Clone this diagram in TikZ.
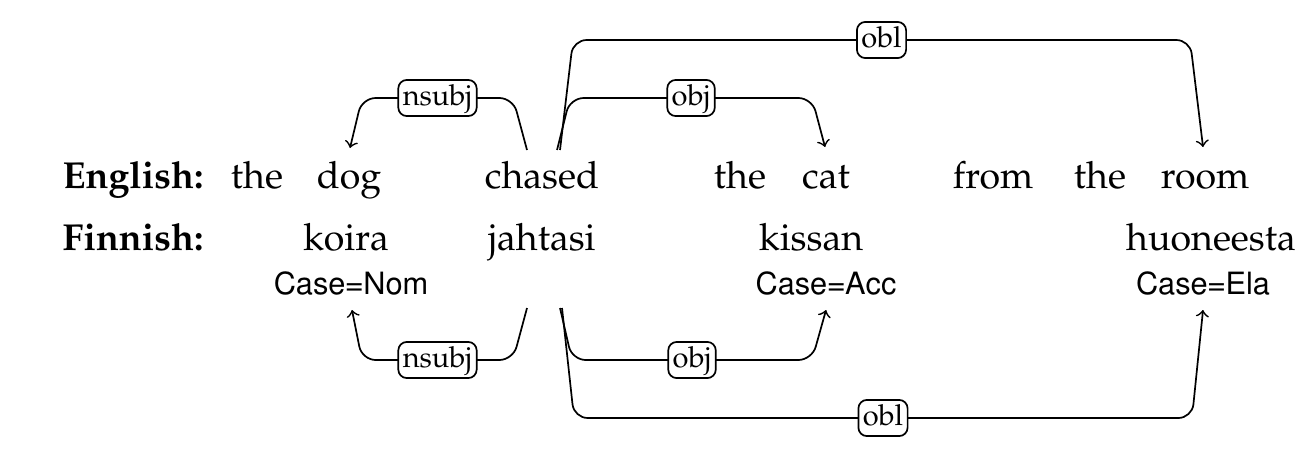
\documentclass[tikz,border=0pt]{standalone}
\usepackage[T1]{fontenc}
\usepackage{mathpazo}
\usepackage{helvet}
\usepackage{tikz}

\tikzset{
  word/.style={anchor=base, inner sep=0pt, font=\fontsize{11}{13}\selectfont},
  lang/.style={anchor=base west, inner sep=0pt, font=\fontsize{11}{13}\selectfont\bfseries},
  feat/.style={anchor=base, inner sep=0pt, font=\fontsize{9}{11}\sffamily},
  deplink/.style={->, rounded corners=4pt, line width=0.5pt},
  deplabel/.style={draw, fill=white, rounded corners=2.5pt, line width=0.5pt,
    inner xsep=1.3pt, inner ysep=1.2pt, text height=6.2pt, text depth=2pt,
    font=\fontsize{8.5}{10}\selectfont}
}

\begin{document}
\begin{tikzpicture}[x=0.0103cm, y=-0.0103cm]
\useasboundingbox (0,0) rectangle (1310,462);

% English row
\node[lang] (en) at (62,188) {English:};
\node[word] (the1) at (257,188) {the};
\node[word] (dog) at (349,188) {dog};
\node[word] (chased) at (542,188) {chased};
\node[word] (the2) at (740,188) {the};
\node[word] (cat) at (826,188) {cat};
\node[word] (from) at (993,188) {from};
\node[word] (the3) at (1100,188) {the};
\node[word] (room) at (1205,188) {room};

% Finnish row
\node[lang] (fi) at (62,250) {Finnish:};
\node[word] (koira) at (346,250) {koira};
\node[word] (jahtasi) at (542,250) {jahtasi};
\node[word] (kissan) at (811,250) {kissan};
\node[word] (huoneesta) at (1211,250) {huoneesta};

\node[feat] (nom) at (351,294) {Case=Nom};
\node[feat] (acc) at (826,294) {Case=Acc};
\node[feat] (ela) at (1203,294) {Case=Ela};

% arcs above
\draw[deplink] ([shift={(-15,-38)}]chased.base) -- ++(-14,-52) -- node[deplabel]{nsubj} ++(-151,0) -- ([shift={(1,-40)}]dog.base);
\draw[deplink] ([shift={(15,-38)}]chased.base) -- ++(13,-52) -- node[deplabel]{obj} ++(242,0) -- ([shift={(-1,-41)}]cat.base);
\draw[deplink] ([shift={(18,-38)}]chased.base) -- ++(13,-110) -- node[deplabel]{obl} ++(617,0) -- ([shift={(-2,-41)}]room.base);

% arcs below
\draw[deplink] ([shift={(-15,58)}]jahtasi.base) -- ++(-14,52) -- node[deplabel]{nsubj} ++(-151,0) -- ([shift={(1,16)}]nom.base);
\draw[deplink] ([shift={(18,58)}]jahtasi.base) -- ++(12,52) -- node[deplabel]{obj} ++(240,0) -- ([shift={(0,16)}]acc.base);
\draw[deplink] ([shift={(20,58)}]jahtasi.base) -- ++(12,110) -- node[deplabel]{obl} ++(618,0) -- ([shift={(0,16)}]ela.base);
\end{tikzpicture}
\end{document}
